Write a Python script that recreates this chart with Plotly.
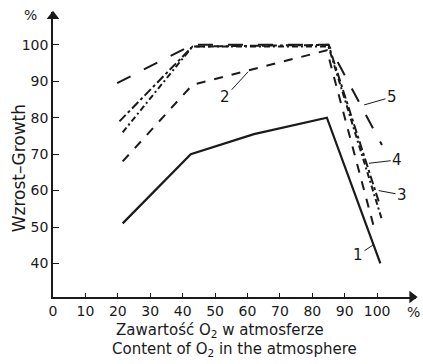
import plotly.graph_objects as go

# Data (O2 content %, growth %)
c1_x = [21.5, 42.5, 62, 84.5, 101]
c1_y = [51, 70, 75.5, 80, 40]
c2_x = [21.5, 43, 84.5, 99]
c2_y = [68, 89, 98.5, 50]
c3_x = [21.5, 43, 85, 101.5]
c3_y = [76, 99.5, 99.5, 52]
c4_x = [20.5, 43, 85, 100.5]
c4_y = [79, 99.5, 100, 57]
c5_x = [19.8, 43, 85, 101.5]
c5_y = [89.5, 100, 100, 72.5]

x_ticks = [0, 10, 20, 30, 40, 50, 60, 70, 80, 90, 100]
y_ticks = [40, 50, 60, 70, 80, 90, 100]

series = [
    (c1_x, c1_y, "solid"),
    (c2_x, c2_y, "dash"),
    (c3_x, c3_y, "6px,3px,2px,3px"),
    (c4_x, c4_y, "dashdot"),
    (c5_x, c5_y, "longdash"),
]

INK = "#1a1a1a"
FONT = "DejaVu Sans"

fig = go.Figure()
for i, (xs, ys, dash) in enumerate(series):
    fig.add_trace(go.Scatter(x=xs, y=ys, mode="lines", name=str(i + 1),
                             line=dict(color=INK, width=2.2 if i == 0 else 2, dash=dash)))

XMAX, YMIN, YMAX = 112, 30.8, 109

# axis arrowheads as markers
fig.add_trace(go.Scatter(x=[XMAX - 1.2], y=[YMIN], mode="markers", cliponaxis=False,
                         marker=dict(symbol="triangle-right", size=11, color=INK),
                         hoverinfo="skip"))
fig.add_trace(go.Scatter(x=[0], y=[YMAX - 1.2], mode="markers", cliponaxis=False,
                         marker=dict(symbol="triangle-up", size=11, color=INK),
                         hoverinfo="skip"))

fig.update_layout(
    width=423, height=364,
    margin=dict(l=53, r=7, t=12, b=67),
    paper_bgcolor="white", plot_bgcolor="white",
    showlegend=False,
    font=dict(family=FONT, size=14, color=INK),
    xaxis=dict(range=[0, XMAX], tickvals=x_ticks, ticks="inside", ticklen=4,
               tickwidth=1.2, tickcolor=INK, showgrid=False, zeroline=False,
               showline=True, linecolor=INK, linewidth=1.5,
               tickfont=dict(size=14)),
    yaxis=dict(range=[YMIN, YMAX], tickvals=y_ticks, ticks="inside", ticklen=6,
               tickwidth=1.2, tickcolor=INK, showgrid=False, zeroline=False,
               showline=True, linecolor=INK, linewidth=1.5,
               tickfont=dict(size=14)),
)

# curve labels with leader lines
labels = [
    ("1", 94.1, 42.3, 98.8, 45.1),
    ("2", 53.1, 85.7, 60.2, 92.6),
    ("3", 107.7, 58.8, 100.5, 60.0),
    ("4", 106.2, 68.4, 97.5, 67.5),
    ("5", 104.6, 85.7, 96.0, 83.5),
]
for t, tx, ty, px, py in labels:
    fig.add_annotation(x=px, y=py, ax=tx, ay=ty, xref="x", yref="y",
                       axref="x", ayref="y", text=t, showarrow=True,
                       arrowhead=0, arrowwidth=1, arrowcolor=INK,
                       font=dict(size=15, color=INK))

# axis titles
def note(x, y, text, size, **kw):
    fig.add_annotation(x=x, y=y, xref="paper", yref="paper", text=text,
                       showarrow=False, xanchor="center", yanchor="middle",
                       font=dict(size=size, color=INK), **kw)

note(-0.095, 0.45, "Wzrost\u2013Growth", 17, textangle=-90)
note(-0.063, 0.99, "%", 14)
note(0.992, -0.053, "%", 14)
note(0.46, -0.118, "Zawartość O<sub>2</sub> w atmosferze", 15)
note(0.499, -0.183, "Content of O<sub>2</sub> in the atmosphere", 15)

fig.write_html("out.html")
